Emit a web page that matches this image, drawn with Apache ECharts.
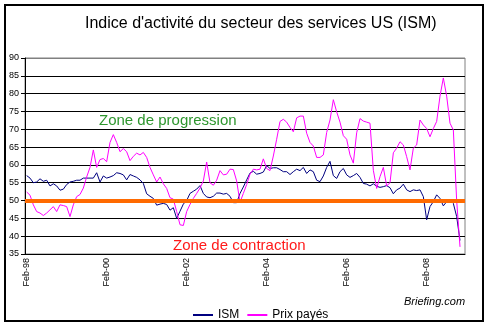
<!DOCTYPE html>
<html>
<head>
<meta charset="utf-8">
<script src="https://cdn.jsdelivr.net/npm/echarts@6/dist/echarts.min.js"></script>
<style>
html,body{margin:0;padding:0;background:#fff;}
#chart{width:489px;height:326px;}
</style>
</head>
<body>
<div id="chart"></div>
<script>
// Tick labels for the category axis (release months, Feb-98 .. Jan-09)
var monthNames = ['Jan','Feb','Mar','Apr','May','Jun','Jul','Aug','Sep','Oct','Nov','Dec'];
var yearLabels = ['98','99','00','01','02','03','04','05','06','07','08','09'];
var categories = [];
(function(){
  var mi = 1, yi = 0;
  for (var k = 0; k < 132; k++) {
    categories.push(monthNames[mi] + '-' + yearLabels[yi]);
    mi++; if (mi === 12) { mi = 0; yi++; }
  }
})();

var yTicks = [35,40,45,50,55,60,65,70,75,80,85,90];

var ism = [
57.0,56.3,55.0,55.2,56.1,55.4,55.7,54.1,54.7,54.1,52.9,53.2,
54.5,55.2,55.4,55.7,55.7,56.3,56.3,56.3,56.3,57.8,55.2,56.9,
56.3,56.6,57.0,57.8,57.6,57.2,55.8,57.3,56.9,56.5,55.8,54.8,
51.9,51.2,50.6,48.7,49.0,49.2,48.9,47.3,48.0,45.0,47.0,49.0,
50.0,52.0,52.6,53.2,54.2,52.0,51.0,50.8,51.2,52.1,52.1,51.8,
52.0,51.2,49.4,49.4,52.0,53.8,55.8,57.7,58.2,57.4,57.6,58.0,
59.8,59.0,59.2,59.2,58.7,58.1,58.1,57.3,58.1,58.8,58.4,59.3,
57.6,58.6,58.1,55.7,55.3,56.9,59.3,61.0,57.0,56.2,58.1,59.0,
57.2,56.5,57.0,57.6,56.5,54.8,54.6,54.1,54.7,54.0,53.7,53.9,
54.2,53.6,51.9,53.0,53.5,54.6,53.0,52.5,53.0,52.8,53.0,51.1,
44.6,48.3,49.7,51.6,50.6,48.5,49.7,50.2,49.2,45.5,38.8,null
];

var prix = [
52.4,51.5,48.8,46.9,46.5,45.8,46.5,47.4,48.3,46.9,48.8,48.6,
48.3,45.5,48.8,51.1,51.7,53.5,56.6,59.3,64.2,59.3,61.5,61.8,
60.9,66.3,68.5,66.3,63.7,64.6,63.7,61.2,62.4,63.3,62.8,63.5,
62.1,59.3,57.2,55.2,56.6,54.7,53.4,50.8,50.4,46.9,43.2,43.0,
46.9,48.9,50.6,52.0,53.5,55.5,60.8,55.0,54.3,55.7,58.4,57.2,
57.4,58.8,58.7,55.5,49.5,52.0,54.5,57.4,58.8,58.6,58.8,61.7,
59.0,58.4,62.5,67.2,72.2,72.8,72.0,70.5,69.3,73.2,73.7,73.7,
68.9,66.3,65.3,62.1,62.1,62.8,69.1,72.6,78.3,74.9,72.0,68.2,
67.2,62.8,60.5,69.0,73.0,72.3,72.0,71.7,58.5,53.4,56.7,59.3,
54.1,55.0,63.4,64.7,66.5,65.6,62.3,58.6,64.7,65.6,72.6,71.2,
70.2,67.9,70.2,72.2,79.3,84.4,79.3,71.7,69.8,50.0,37.0,null
];

var threshold = 50;

var FONT = 'Liberation Sans, Arial, sans-serif';
var splitColors = [];
for (var i = 0; i < yTicks.length - 1; i++) splitColors.push('#000000');
splitColors.push('#808080');

var chart = echarts.init(document.getElementById('chart'), null, {renderer: 'canvas'});
chart.setOption({
  animation: false,
  backgroundColor: '#ffffff',
  title: {
    text: "Indice d'activité du secteur des services US (ISM)",
    left: 80, top: 11,
    textStyle: {fontFamily: FONT, fontSize: 16, fontWeight: 'normal', color: '#000'}
  },
  grid: {left: 25, right: 24, top: 58, bottom: 72, show: true, borderColor: '#808080', borderWidth: 1},
  legend: {
    left: 188, top: 304,
    itemWidth: 20, itemHeight: 2, itemGap: 8,
    textStyle: {fontFamily: FONT, fontSize: 12, color: '#000'},
    data: [{name: 'ISM', icon: 'rect'}, {name: 'Prix payés', icon: 'rect'}]
  },
  xAxis: {
    type: 'category',
    data: categories,
    boundaryGap: true,
    axisLine: {lineStyle: {color: '#000', width: 1}},
    axisTick: {show: false},
    axisLabel: {
      interval: 23, rotate: 90, fontFamily: FONT, fontSize: 9, color: '#000', margin: 4
    },
    splitLine: {show: false}
  },
  yAxis: {
    type: 'value',
    min: yTicks[0], max: yTicks[yTicks.length - 1], interval: 5,
    axisLine: {show: true, lineStyle: {color: '#000', width: 1}},
    axisTick: {show: true, length: 4, lineStyle: {color: '#000'}},
    axisLabel: {fontFamily: FONT, fontSize: 9, color: '#000', margin: 6},
    splitLine: {show: true, lineStyle: {color: splitColors, width: 1}}
  },
  graphic: [
    {type: 'rect', shape: {x: 5, y: 5, width: 478, height: 316},
     style: {fill: 'none', stroke: '#000', lineWidth: 2}, z: 100},
    {type: 'text', left: 99, top: 113,
     style: {text: 'Zone de progression', font: '15px ' + FONT, fill: '#2e962e'}, z: 50},
    {type: 'text', left: 173, top: 238,
     style: {text: 'Zone de contraction', font: '15px ' + FONT, fill: '#ff1a1a'}, z: 50},
    {type: 'text', left: 404, top: 296,
     style: {text: 'Briefing.com', font: 'italic 11px ' + FONT, fill: '#000'}, z: 50}
  ],
  series: [
    {
      name: 'ISM', type: 'line', data: ism, symbol: 'none', showSymbol: false,
      lineStyle: {color: '#000080', width: 1}, itemStyle: {color: '#000080'}
    },
    {
      name: 'Prix payés', type: 'line', data: prix, symbol: 'none', showSymbol: false,
      lineStyle: {color: '#ff00ff', width: 1}, itemStyle: {color: '#ff00ff'},
      markLine: {
        silent: true, symbol: 'none', label: {show: false},
        lineStyle: {color: '#ff6a00', width: 4, type: 'solid'},
        data: [{yAxis: threshold}]
      }
    }
  ]
});
</script>
</body>
</html>
